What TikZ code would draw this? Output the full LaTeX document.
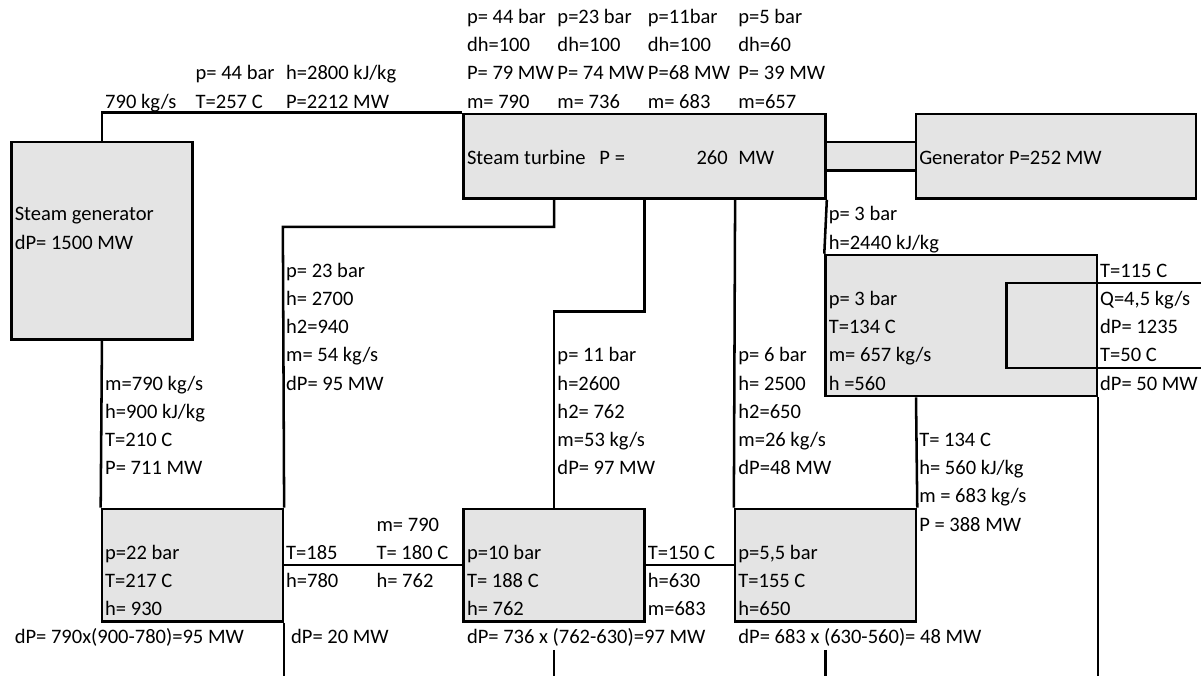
\documentclass[tikz,border=0pt]{standalone}
\usepackage{fontspec}
\setmainfont{Carlito}
\usetikzlibrary{fit}
\definecolor{boxfill}{HTML}{E4E4E4}
\tikzset{
  box/.style={draw=black, fill=boxfill, line width=1.9pt, inner sep=0pt},
  wire/.style={draw=black, line width=1.9pt},
  lbl/.style={anchor=base west, inner sep=0pt, font=\fontsize{15.4pt}{18pt}\selectfont},
  lblr/.style={lbl, anchor=base east},
}
\newcommand\Lbl[4]{\node[lbl] (#1) at ({11.5+90.45*(#2)+3},{136.2+28.2*(#3)}) {#4};}
\begin{document}
\begin{tikzpicture}[x=0.75pt,y=-0.75pt]
\useasboundingbox (0,0) rectangle (1201,676);
\foreach \k in {0,...,13} \coordinate (C\k) at ({11.5+90.45*\k},0);
\foreach \k in {0,...,19} \coordinate (R\k) at (0,{114+28.2*\k});
\coordinate (Bot) at (0,676);
\coordinate (RE) at (1201,0);
\coordinate (GR) at (1196,0);

% boxes
\node[box, fit={(C9|-R1)(C10|-R2)}] (shaft) {};
\node[box, fit={(C0|-R1)(C2|-R8)}] (sg) {};
\node[box, fit={(C5|-R0)(C9|-R3)}] (tb) {};
\node[box, fit={(C10|-R0)(GR|-R3)}] (gen) {};
\node[box, fit={(C9|-R5)(C12|-R10)}] (cd) {};
\node[box, fit={(C1|-R14)(C3|-R18)}] (h1) {};
\node[box, fit={(C5|-R14)(C7|-R18)}] (h2) {};
\node[box, fit={(C8|-R14)(C10|-R18)}] (h3) {};

% connectors
\draw[wire] (sg.north -| C1) |- (tb.north west);
\draw[wire] (sg.south -| C1) -- (h1.north west);
\draw[wire] (tb.south -| C6) |- (C3 |- R4) -- (h1.north east);
\draw[wire] (h1.south east) -- (h1.south east |- Bot);
\draw[wire] (tb.south -| C7) |- (C6 |- R7) -- (h2.north -| C6);
\draw[wire] (tb.south -| C8) -- (h3.north west);
\draw[wire] (tb.south east) -- (cd.north west);
\draw[wire] (cd.south -| C10) -- (h3.north east);
\draw[wire] (cd.south east) -- (cd.south east |- Bot);
\draw[wire] (h1.east |- R16) -- (h2.west |- R16);
\draw[wire] (h2.east |- R16) -- (h3.west |- R16);
\draw[wire] (C6 |- R19) -- (C6 |- Bot);
\draw[wire] (C9 |- R19) -- (C9 |- Bot);
\draw[wire] (RE |- R6) -- (C11 |- R6) -- (C11 |- R9) -- (RE |- R9);

% top header
\Lbl{a1}{5}{-4}{p= 44 bar}
\Lbl{a2}{6}{-4}{p=23 bar}
\Lbl{a3}{7}{-4}{p=11bar}
\Lbl{a4}{8}{-4}{p=5 bar}
\Lbl{b1}{5}{-3}{dh=100}
\Lbl{b2}{6}{-3}{dh=100}
\Lbl{b3}{7}{-3}{dh=100}
\Lbl{b4}{8}{-3}{dh=60}
\Lbl{c1}{5}{-2}{P= 79 MW}
\Lbl{c2}{6}{-2}{P= 74 MW}
\Lbl{c3}{7}{-2}{P=68 MW}
\Lbl{c4}{8}{-2}{P= 39 MW}
\Lbl{c5}{2}{-2}{p= 44 bar}
\Lbl{c6}{3}{-2}{h=2800 kJ/kg}
\Lbl{d1}{5}{-1}{m= 790}
\Lbl{d2}{6}{-1}{m= 736}
\Lbl{d3}{7}{-1}{m= 683}
\Lbl{d4}{8}{-1}{m=657}
\Lbl{d5}{1}{-1}{790 kg/s}
\Lbl{d6}{2}{-1}{T=257 C}
\Lbl{d7}{3}{-1}{P=2212 MW}

% turbine, generator, steam generator
\Lbl{st}{5}{1}{Steam turbine\hspace{7pt} P =}
\node[lblr] (stv) at (728,{136.2+28.2}) {260};
\Lbl{stu}{8}{1}{MW}
\Lbl{gt}{10}{1}{Generator P=252 MW}
\Lbl{sg1}{0}{3}{Steam generator}
\Lbl{sg2}{0}{4}{dP= 1500 MW}

% condenser side
\Lbl{e1}{9}{3}{p= 3 bar}
\Lbl{e2}{9}{4}{h=2440 kJ/kg}
\Lbl{f1}{12}{5}{T=115 C}
\Lbl{f2}{9}{6}{p= 3 bar}
\Lbl{f3}{12}{6}{Q=4,5 kg/s}
\Lbl{f4}{9}{7}{T=134 C}
\Lbl{f5}{12}{7}{dP= 1235}
\Lbl{f6}{9}{8}{m= 657 kg/s}
\Lbl{f7}{12}{8}{T=50 C}
\Lbl{f8}{9}{9}{h =560}
\Lbl{f9}{12}{9}{dP= 50 MW}

% extraction lines
\Lbl{g1}{3}{5}{p= 23 bar}
\Lbl{g2}{3}{6}{h= 2700}
\Lbl{g3}{3}{7}{h2=940}
\Lbl{g4}{3}{8}{m= 54 kg/s}
\Lbl{g5}{3}{9}{dP= 95 MW}
\Lbl{k1}{6}{8}{p= 11 bar}
\Lbl{k2}{6}{9}{h=2600}
\Lbl{k3}{6}{10}{h2= 762}
\Lbl{k4}{6}{11}{m=53 kg/s}
\Lbl{k5}{6}{12}{dP= 97 MW}
\Lbl{l1}{8}{8}{p= 6 bar}
\Lbl{l2}{8}{9}{h= 2500}
\Lbl{l3}{8}{10}{h2=650}
\Lbl{l4}{8}{11}{m=26 kg/s}
\Lbl{l5}{8}{12}{dP=48 MW}
\Lbl{n1}{1}{9}{m=790 kg/s}
\Lbl{n2}{1}{10}{h=900 kJ/kg}
\Lbl{n3}{1}{11}{T=210 C}
\Lbl{n4}{1}{12}{P= 711 MW}
\Lbl{o1}{10}{11}{T= 134 C}
\Lbl{o2}{10}{12}{h= 560 kJ/kg}
\Lbl{o3}{10}{13}{m = 683 kg/s}
\Lbl{o4}{10}{14}{P = 388 MW}

% heaters
\Lbl{q1}{4}{14}{m= 790}
\Lbl{q2}{3}{15}{T=185}
\Lbl{q3}{4}{15}{T= 180 C}
\Lbl{q4}{3}{16}{h=780}
\Lbl{q5}{4}{16}{h= 762}
\Lbl{q6}{1}{15}{p=22 bar}
\Lbl{q7}{1}{16}{T=217 C}
\Lbl{q8}{1}{17}{h= 930}
\Lbl{q9}{0}{18}{dP= 790x(900-780)=95 MW}
\node[lbl] (q10) at ({11.5+90.45*3+8},{136.2+28.2*18}) {dP= 20 MW};
\Lbl{s1}{5}{15}{p=10 bar}
\Lbl{s2}{5}{16}{T= 188 C}
\Lbl{s3}{5}{17}{h= 762}
\Lbl{s4}{7}{15}{T=150 C}
\Lbl{s5}{7}{16}{h=630}
\Lbl{s6}{7}{17}{m=683}
\Lbl{s7}{5}{18}{dP= 736 x (762-630)=97 MW}
\Lbl{u1}{8}{15}{p=5,5 bar}
\Lbl{u2}{8}{16}{T=155 C}
\Lbl{u3}{8}{17}{h=650}
\Lbl{u4}{8}{18}{dP= 683 x (630-560)= 48 MW}
\end{tikzpicture}
\end{document}
